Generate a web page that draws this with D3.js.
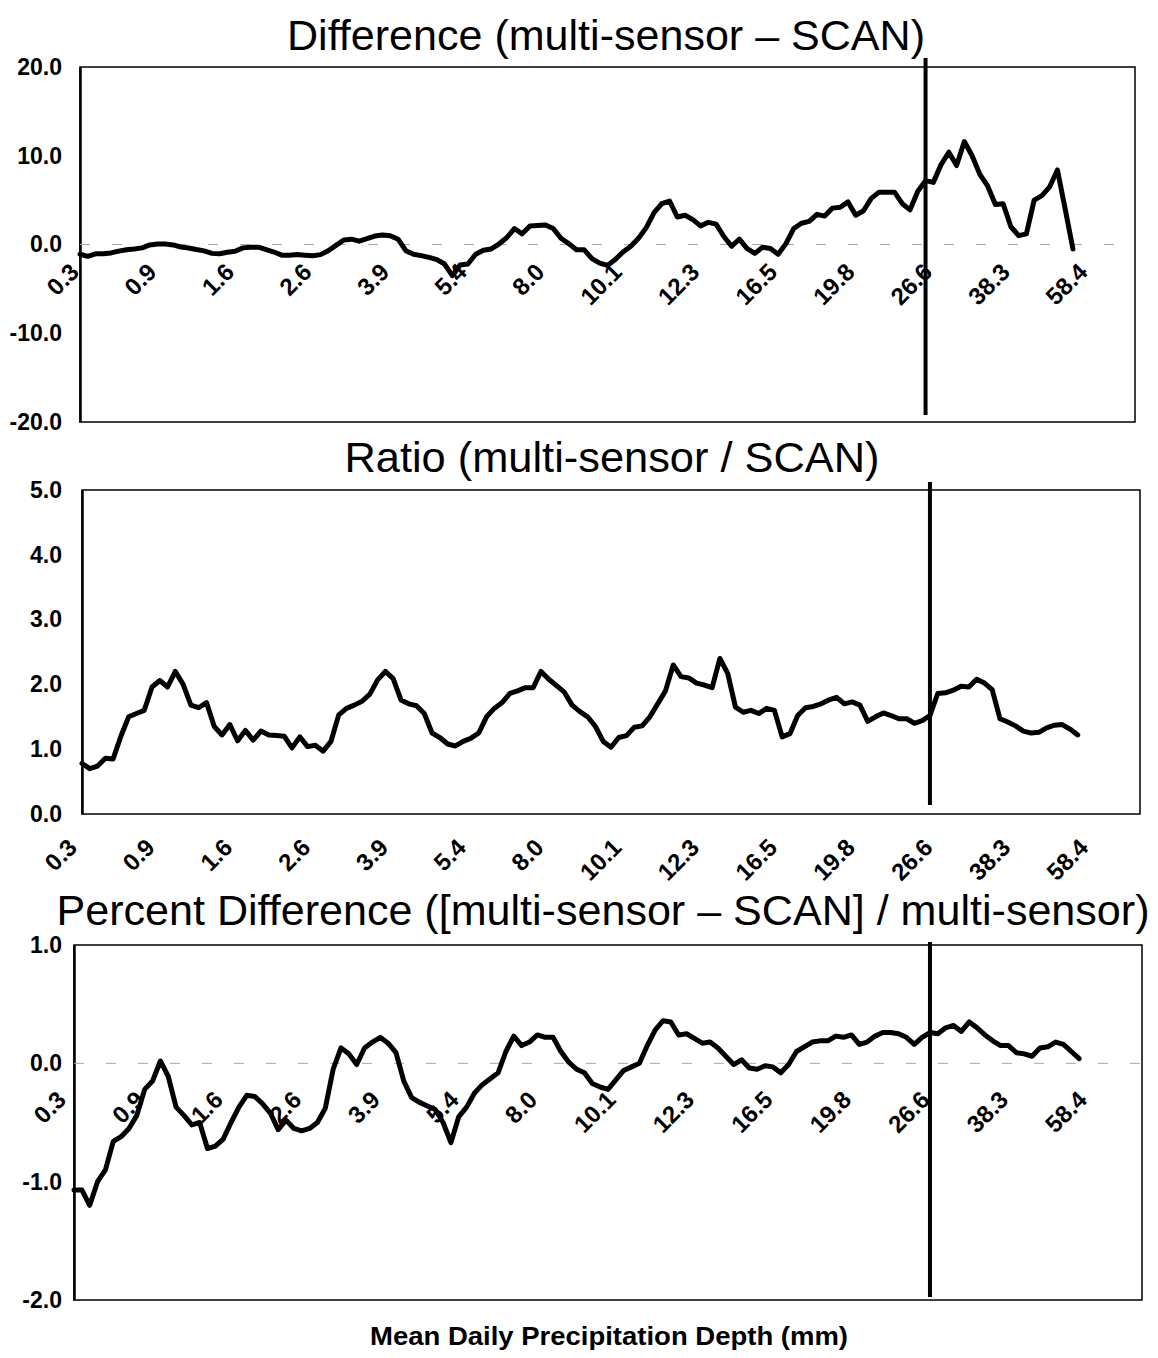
<!DOCTYPE html>
<html>
<head>
<meta charset="utf-8">
<script src="https://cdn.jsdelivr.net/npm/d3@7"></script>
<style>
body { margin: 0; background: #fff; }
svg text { font-family: "Liberation Sans", Arial, sans-serif; fill: #000; }
</style>
</head>
<body>
<div class="container"></div>
<script>
// category labels shown every 10 points
const xLabels = ["0.3","0.9","1.6","2.6","3.9","5.4","8.0","10.1","12.3","16.5","19.8","26.6","38.3","58.4"]
const step = 0.1          // spacing of the points, in label intervals
const xMax = 13.6         // axis length, in label intervals
const markerAt = 10.9     // position of the vertical bar

const diffTicks = [-20, -10, 0, 10, 20]
const ratioTicks = [0, 1, 2, 3, 4, 5]
const pctTicks = [-2, -1, 0, 1]

const diffValues = [
  -1.1,-1.33,-1.05,-1.05,-0.95,-0.75,-0.6,-0.5,-0.38,-0.05,
  0.05,0.05,-0.05,-0.28,-0.4,-0.57,-0.72,-1.0,-1.05,-0.88,
  -0.76,-0.38,-0.3,-0.3,-0.57,-0.85,-1.2,-1.2,-1.14,-1.2,
  -1.26,-1.14,-0.7,-0.1,0.5,0.6,0.38,0.65,0.95,1.07,
  0.98,0.6,-0.7,-1.1,-1.25,-1.45,-1.7,-2.2,-3.5,-2.3,
  -2.2,-1.1,-0.65,-0.5,0.05,0.76,1.8,1.2,2.09,2.15,
  2.2,1.8,0.7,0.1,-0.6,-0.6,-1.6,-2.1,-2.36,-1.7,
  -0.84,-0.2,0.7,1.9,3.6,4.6,4.9,3.1,3.3,2.8,
  2.1,2.5,2.3,0.9,-0.2,0.6,-0.46,-1.0,-0.3,-0.45,
  -1.1,0.1,1.8,2.4,2.6,3.4,3.2,4.1,4.2,4.8,
  3.3,3.8,5.2,5.9,5.9,5.9,4.6,3.9,6.0,7.2,
  7.0,9.0,10.4,8.9,11.6,10.0,7.9,6.6,4.5,4.6,
  2.0,1.0,1.2,5.0,5.5,6.5,8.4,4.0,-0.5
]

const ratioValues = [
  0.78,0.70,0.74,0.86,0.85,1.2,1.5,1.55,1.6,1.96,
  2.06,1.96,2.2,2.0,1.68,1.64,1.72,1.35,1.22,1.38,
  1.13,1.29,1.14,1.28,1.22,1.21,1.2,1.02,1.19,1.04,
  1.06,0.97,1.12,1.53,1.63,1.68,1.74,1.85,2.07,2.2,
  2.09,1.76,1.7,1.67,1.55,1.25,1.18,1.08,1.05,1.12,
  1.17,1.25,1.5,1.63,1.72,1.86,1.9,1.95,1.95,2.2,
  2.08,1.98,1.88,1.68,1.58,1.5,1.35,1.12,1.03,1.18,
  1.21,1.34,1.36,1.5,1.7,1.9,2.3,2.12,2.1,2.02,
  1.99,1.95,2.4,2.17,1.65,1.57,1.6,1.55,1.63,1.6,
  1.19,1.24,1.52,1.64,1.66,1.7,1.76,1.8,1.7,1.73,
  1.68,1.43,1.5,1.56,1.52,1.47,1.47,1.4,1.44,1.52,
  1.86,1.87,1.91,1.97,1.96,2.08,2.02,1.92,1.47,1.42,
  1.36,1.28,1.25,1.26,1.33,1.37,1.38,1.31,1.22
]

const pctValues = [
  -1.07,-1.07,-1.2,-1.0,-0.9,-0.66,-0.62,-0.55,-0.44,-0.22,
  -0.15,0.02,-0.11,-0.37,-0.44,-0.52,-0.5,-0.72,-0.7,-0.64,
  -0.5,-0.37,-0.27,-0.28,-0.34,-0.42,-0.56,-0.48,-0.55,-0.57,
  -0.55,-0.5,-0.38,-0.05,0.13,0.08,-0.01,0.13,0.18,0.22,
  0.17,0.09,-0.15,-0.29,-0.33,-0.36,-0.39,-0.5,-0.67,-0.45,
  -0.37,-0.25,-0.18,-0.13,-0.08,0.1,0.23,0.15,0.18,0.24,
  0.22,0.22,0.1,0.01,-0.05,-0.08,-0.17,-0.2,-0.22,-0.14,
  -0.06,-0.03,0.0,0.15,0.28,0.36,0.35,0.24,0.25,0.21,
  0.17,0.18,0.13,0.06,-0.01,0.03,-0.04,-0.05,-0.02,-0.03,
  -0.08,-0.01,0.1,0.14,0.18,0.19,0.19,0.23,0.22,0.24,
  0.16,0.18,0.23,0.26,0.26,0.25,0.22,0.16,0.22,0.26,
  0.25,0.3,0.32,0.27,0.35,0.3,0.24,0.19,0.15,0.15,
  0.09,0.08,0.06,0.13,0.14,0.18,0.16,0.1,0.04
]

const svg = d3.select(".container")
              .append("svg")
              .attr("width", 1158)
              .attr("height", 1358)

// layout of the three stacked panels
const panels = [
  {title: "Difference (multi-sensor \u2013 SCAN)", values: diffValues, domain: [-20, 20], ticks: diffTicks,
   left: 80, right: 1135, top: 67, bottom: 422, titleX: 606, titleY: 50, titleLen: 638,
   labelsAtZero: true, labelDx: -6, labelDy: 23, markTop: -9, markBottom: -7},
  {title: "Ratio (multi-sensor / SCAN)", values: ratioValues, domain: [0, 5], ticks: ratioTicks,
   left: 82, right: 1140, top: 490, bottom: 814, titleX: 612, titleY: 472, titleLen: 535,
   labelsAtZero: false, labelDx: -10, labelDy: 29, markTop: -8, markBottom: -9},
  {title: "Percent Difference ([multi-sensor \u2013 SCAN] / multi-sensor)", values: pctValues, domain: [-2, 1], ticks: pctTicks,
   left: 74, right: 1142, top: 945, bottom: 1300, titleX: 603, titleY: 925, titleLen: 1093,
   labelsAtZero: true, labelDx: -13, labelDy: 32, markTop: -3, markBottom: -3}
]

const drawPanel = (p) => {
    const x = d3.scaleLinear().domain([0, xMax]).range([p.left, p.right])
    const y = d3.scaleLinear().domain(p.domain).range([p.bottom, p.top])
    const g = svg.append("g")

    g.append("text")
     .attr("x", p.titleX)
     .attr("y", p.titleY)
     .attr("text-anchor", "middle")
     .attr("font-size", 43)
     .attr("textLength", p.titleLen)
     .attr("lengthAdjust", "spacingAndGlyphs")
     .text(p.title)

    // frame
    g.append("rect")
     .attr("x", p.left).attr("y", p.top)
     .attr("width", p.right - p.left).attr("height", p.bottom - p.top)
     .attr("fill", "none").attr("stroke", "#000").attr("stroke-width", 1.5)

    // y axis
    const yAxis = g.append("g")
     .attr("transform", `translate(${p.left},0)`)
     .call(d3.axisLeft(y).tickValues(p.ticks).tickSize(0).tickPadding(p.left - 62)
            .tickFormat(d => d.toFixed(1)))
    yAxis.select(".domain").attr("stroke", "#000").attr("stroke-width", 2.5)
    yAxis.selectAll("text")
         .attr("font-size", 23).attr("font-weight", "bold")
         .attr("font-family", "'Liberation Sans', Arial, sans-serif")

    // category axis (crosses at zero where the range includes it)
    const axisY = p.labelsAtZero ? y(0) : p.bottom
    if (p.labelsAtZero) {
        g.append("line")
         .attr("x1", p.left).attr("x2", p.right)
         .attr("y1", axisY).attr("y2", axisY)
         .attr("stroke", "#aaa").attr("stroke-width", 1)
         .attr("stroke-dasharray", "10,22")
    }
    const xAxis = g.append("g")
     .attr("transform", `translate(0,${axisY})`)
     .call(d3.axisBottom(x).tickValues(d3.range(xLabels.length)).tickSize(0)
            .tickFormat(i => xLabels[i]))
    xAxis.select(".domain").remove()
    xAxis.selectAll("text")
         .attr("x", 0).attr("y", 0).attr("dy", "0.35em")
         .attr("transform", `translate(${p.labelDx},${p.labelDy}) rotate(-45)`)
         .attr("text-anchor", "end")
         .attr("font-size", 24).attr("font-weight", "bold")
         .attr("font-family", "'Liberation Sans', Arial, sans-serif")

    // series
    g.append("path")
     .datum(p.values)
     .attr("d", d3.line().x((d, i) => x(i * step)).y(d => y(d)))
     .attr("fill", "none")
     .attr("stroke", "#000")
     .attr("stroke-width", 5)
     .attr("stroke-linejoin", "round")
     .attr("stroke-linecap", "round")

    // vertical bar
    g.append("line")
     .attr("x1", x(markerAt)).attr("x2", x(markerAt))
     .attr("y1", p.top + p.markTop).attr("y2", p.bottom + p.markBottom)
     .attr("stroke", "#000").attr("stroke-width", 4)
}

panels.forEach(drawPanel)

svg.append("text")
   .attr("x", 609)
   .attr("y", 1345)
   .attr("text-anchor", "middle")
   .attr("font-size", 25)
   .attr("font-weight", "bold")
   .attr("textLength", 478)
   .attr("lengthAdjust", "spacingAndGlyphs")
   .text("Mean Daily Precipitation Depth (mm)")
</script>
</body>
</html>
